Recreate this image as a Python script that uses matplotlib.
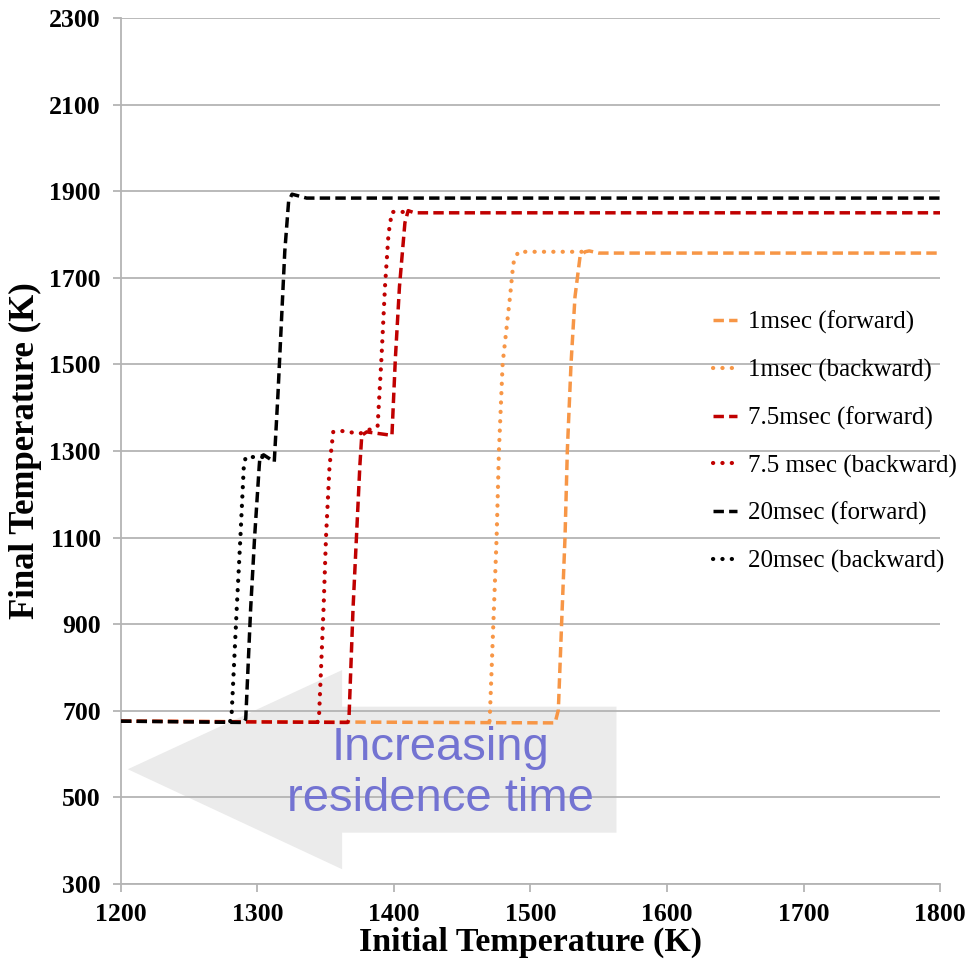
import matplotlib
matplotlib.use("Agg")
import matplotlib.pyplot as plt
from matplotlib.patches import Polygon

# sweep results: initial temperature (K) -> final temperature (K)
t1_fwd_x = [1200, 1518, 1520.4, 1522.8, 1525.3, 1527, 1529.7, 1532.6, 1536.3, 1540, 1543, 1550, 1800]
t1_fwd_y = [676, 672, 702, 902, 1102, 1302, 1502, 1656, 1749, 1760, 1762, 1757, 1757]
t1_bwd_x = [1470, 1470.3, 1472.8, 1475.2, 1476.9, 1479.6, 1485, 1487.4, 1491, 1541]
t1_bwd_y = [676, 694, 902, 1102, 1302, 1502, 1656, 1733, 1760, 1760]

t75_fwd_x = [1200, 1366, 1367, 1370, 1372.5, 1375, 1376.4, 1380, 1398.5, 1401, 1404, 1408, 1410.4, 1415, 1800]
t75_fwd_y = [676, 673, 680, 936, 1101, 1266, 1336, 1344, 1336, 1513, 1679, 1827, 1855, 1850, 1850]
t75_bwd_x = [1344, 1345, 1348.4, 1350.2, 1352.8, 1355.5, 1362, 1375, 1388, 1390.8, 1393.4, 1396, 1398.5, 1410]
t75_bwd_y = [674, 680, 936, 1101, 1266, 1344, 1346, 1340, 1357, 1513, 1679, 1802, 1852, 1852]

t20_fwd_x = [1200, 1290, 1291.4, 1295, 1297.9, 1301.3, 1301.8, 1304.5, 1312.3, 1315, 1317.5, 1320, 1322.8, 1325.3, 1336, 1800]
t20_fwd_y = [676, 673, 681, 936, 1101, 1266, 1286, 1291, 1275, 1431, 1596, 1761, 1876, 1893, 1884, 1884]
t20_bwd_x = [1280, 1281, 1284.8, 1287.5, 1290, 1291.4, 1306]
t20_bwd_y = [676, 688, 936, 1101, 1266, 1286, 1286]

labels = ["1msec (forward)", "1msec (backward)", "7.5msec (forward)",
          "7.5 msec (backward)", "20msec (forward)", "20msec (backward)"]
colors = ["#f79646", "#f79646", "#c00000", "#c00000", "#000000", "#000000"]

x_ticks = [1200, 1300, 1400, 1500, 1600, 1700, 1800]
y_ticks = [300, 500, 700, 900, 1100, 1300, 1500, 1700, 1900, 2100, 2300]

serif = "Liberation Serif"
fig = plt.figure(figsize=(9.67, 9.6), dpi=100)
ax = fig.add_axes([0.1251, 0.0792, 0.847, 0.9021])

series = [(t1_fwd_x, t1_fwd_y), (t1_bwd_x, t1_bwd_y),
          (t75_fwd_x, t75_fwd_y), (t75_bwd_x, t75_bwd_y),
          (t20_fwd_x, t20_fwd_y), (t20_bwd_x, t20_bwd_y)]
for i, (xs, ys) in enumerate(series):
    if i % 2 == 0:
        ax.plot(xs, ys, color=colors[i], lw=2.5, linestyle=(0, (3.0, 1.5)),
                label=labels[i], zorder=3 + i)
    else:
        ax.plot(xs, ys, color=colors[i], lw=3.0, linestyle=(0, (0.05, 2.2)),
                dash_capstyle="round", label=labels[i], zorder=3 + i)

# big arrow in the background
arrow = Polygon([(1205, 565), (1362, 794), (1362, 709.5), (1563, 709.5),
                 (1563, 418.5), (1362, 418.5), (1362, 334)],
                closed=True, facecolor="#ebebeb", edgecolor="none", zorder=0.3)
ax.add_patch(arrow)
ax.text(1434, 556, "Increasing\nresidence time", ha="center", va="center",
        fontsize=34, color="#7373d2", family="Liberation Sans",
        linespacing=1.2, zorder=2)

ax.set_xlim(1200, 1800)
ax.set_ylim(300, 2300)
ax.set_xticks(x_ticks)
ax.set_yticks(y_ticks)
ax.set_axisbelow(True)
ax.yaxis.grid(True, color="#b4b4b4", lw=1.3)

for s in ["top", "right"]:
    ax.spines[s].set_visible(False)
for s in ["left", "bottom"]:
    ax.spines[s].set_color("#b4b4b4")
    ax.spines[s].set_linewidth(1.3)

ax.tick_params(axis="y", direction="out", length=5.5, width=1.3, color="#b4b4b4", pad=9)
ax.tick_params(axis="x", direction="out", length=6, width=1.3, color="#b4b4b4", pad=8)
for lab in ax.get_xticklabels() + ax.get_yticklabels():
    lab.set_fontfamily(serif)
    lab.set_fontweight("bold")
    lab.set_fontsize(18.5)

ax.set_xlabel("Initial Temperature (K)", fontfamily=serif, fontweight="bold", fontsize=24.5)
ax.set_ylabel("Final Temperature (K)", fontfamily=serif, fontweight="bold", fontsize=25)
ax.xaxis.label.set_va("center")
ax.yaxis.label.set_va("center")
ax.xaxis.set_label_coords(0.5, -0.068)
ax.yaxis.set_label_coords(-0.116, 0.5)

ax.legend(loc="upper left", bbox_to_anchor=(713 / 967, 1 - 311 / 960),
          bbox_transform=fig.transFigure, frameon=False, borderpad=0,
          borderaxespad=0, handlelength=0.95, handletextpad=0.45,
          labelspacing=0.98, prop={"family": serif, "size": 18})

fig.savefig("out.png", dpi=100)
